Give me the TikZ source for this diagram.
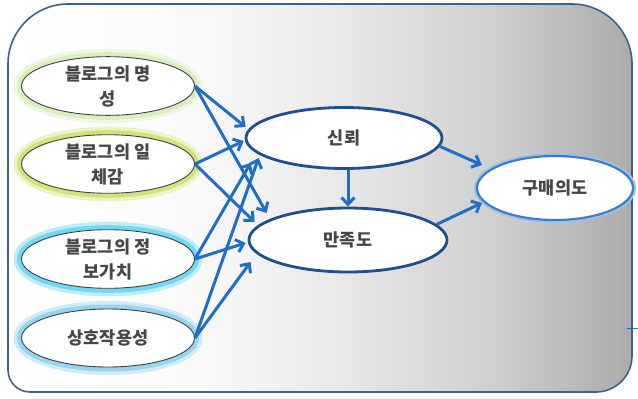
\documentclass[tikz,border=0pt]{standalone}
\usepackage{fontspec}
\setmainfont{Noto Sans CJK KR}
\usetikzlibrary{arrows.meta, shapes.geometric}

\definecolor{linkblue}{HTML}{1F6FC8}
\definecolor{rimblue}{HTML}{1E4F8F}
\definecolor{buyrim}{HTML}{3D7CC9}
\definecolor{framecol}{HTML}{41618A}
\definecolor{mjglow}{HTML}{DCEEC0}
\definecolor{ilglow}{HTML}{CFE57A}
\definecolor{jbglow}{HTML}{6FD8F2}
\definecolor{shglow}{HTML}{96D4F2}
\definecolor{buyglow}{HTML}{9DC2EA}

\pgfdeclarehorizontalshading{panelshade}{100bp}{color(0bp)=(white); color(25bp)=(white); color(40bp)=(black!2); color(52bp)=(black!9); color(64bp)=(black!19); color(75bp)=(black!33); color(100bp)=(black!33)}

\begin{document}
\begin{tikzpicture}[x=1pt,y=-1pt,semithick]
            \tikzstyle{factor} = [ellipse, draw=black!75, fill=white, line width=0.9pt, inner sep=0pt, minimum width=173pt, minimum height=58pt, align=center, font=\fontsize{17.5}{25}\selectfont\bfseries, text=black!72]
            \tikzstyle{latent} = [ellipse, draw=rimblue, line width=2.8pt, fill=white, inner sep=0pt, font=\fontsize{17.5}{25}\selectfont\bfseries, text=black!72]
            \tikzstyle{glow}   = [preaction={draw=#1!45, line width=16pt}, preaction={draw=#1, line width=9pt}]
            \tikzstyle{link}   = [draw=linkblue, line width=3pt, -{Straight Barb[length=7pt,width=13pt]}]

            \useasboundingbox (0,0) rectangle (638,399);

            % Panel .........................
            \path[draw=framecol, line width=1.6pt, shade, shading=panelshade]
                (8,200) [rounded corners=60pt] -- (8,4) -- (632,4) [rounded corners=36pt] -- (632,392) [rounded corners=22pt] -- (8,392) -- cycle;
            \draw[linkblue, line width=1pt] (627,328) -- (638,328);

            % Factors .........................
            \node[factor, glow=mjglow] (rep)   at (108,86)  {블로그의 명\\성};
            \node[factor, glow=ilglow] (unity) at (108,164) {블로그의 일\\체감};
            \node[factor, glow=jbglow] (info)  at (108,259) {블로그의 정\\보가치};
            \node[factor, glow=shglow] (inter) at (108,338) {상호작용성};

            % Mediators and outcome .........................
            \node[latent, minimum width=196pt, minimum height=61pt] (trust) at (344,138) {신뢰};
            \node[latent, minimum width=198pt, minimum height=64pt] (satis) at (348,240) {만족도};
            \node[latent, draw=buyrim, line width=2.2pt, preaction={draw=buyglow, line width=6pt}, minimum width=156pt, minimum height=64pt] (buy) at (555,188) {구매의도};

            \draw[link] (rep.east)   -- ([xshift=1pt,yshift=11pt]trust.west);
            \draw[link] (unity.east) -- ([xshift=-1pt,yshift=-3pt]trust.west);
            \draw[link] (info.east)  -- ([xshift=6pt,yshift=-25pt]trust.west);
            \draw[link] (inter.east) -- ([xshift=14pt,yshift=-20pt]trust.west);

            \draw[link] (rep.east)   -- ([xshift=19pt,yshift=27pt]satis.west);
            \draw[link] (unity.east) -- ([xshift=7pt,yshift=18pt]satis.west);
            \draw[link] (info.east)  -- ([xshift=-2pt,yshift=-3pt]satis.west);
            \draw[link] (inter.east) -- ([xshift=3pt,yshift=-22pt]satis.west);

            \draw[link] (trust.south -| satis.north) -- (satis.north);
            \draw[link] (trust.-5) -- ([xshift=6pt,yshift=23pt]buy.west);
            \draw[link] (satis.10) -- ([xshift=6pt,yshift=-15pt]buy.west);

        \end{tikzpicture}
\end{document}
